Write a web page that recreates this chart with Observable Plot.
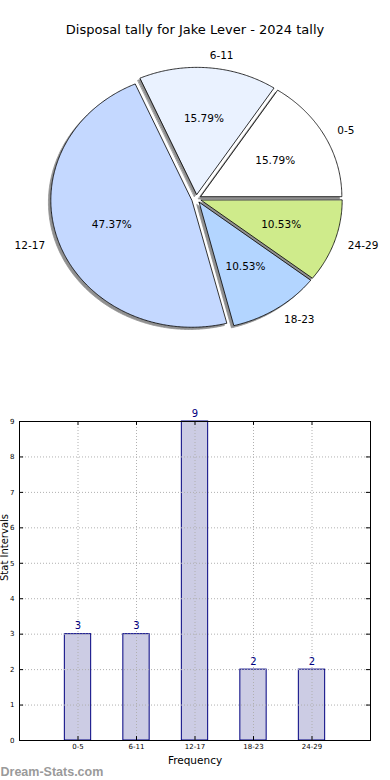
<!DOCTYPE html>
<html>
<head>
<meta charset="utf-8">
<script src="https://cdn.jsdelivr.net/npm/d3@7"></script>
<script src="https://cdn.jsdelivr.net/npm/@observablehq/plot@0.6"></script>
<style>
  html, body { margin: 0; padding: 0; background: #fff; }
  body { width: 390px; height: 780px; overflow: hidden; font-family: "DejaVu Sans", sans-serif; }
  #title { height: 45px; line-height: 60px; text-align: center; font-size: 13px; color: #000; }
  svg { display: block; }
</style>
</head>
<body>
<div id="title">Disposal tally for Jake Lever - 2024 tally</div>
<div id="pie"></div>
<div id="bar"></div>
<script>
// ---- data ----
const categories = ["0-5", "6-11", "12-17", "18-23", "24-29"];
const counts = [3, 3, 9, 2, 2];
const sliceColors = ["#ffffff", "#eaf2ff", "#c4d8ff", "#b3d5ff", "#cfeb8b"];
const yTickValues = [0, 1, 2, 3, 4, 5, 6, 7, 8, 9];

// ---- pie geometry (unit coordinates, matplotlib-style: start 0deg, counter-clockwise) ----
const total = d3.sum(counts);
const explode = 0.035;
let acc = 0;
const wedges = categories.map((c, i) => {
  const a0 = acc / total * 2 * Math.PI;
  acc += counts[i];
  const a1 = acc / total * 2 * Math.PI;
  const mid = (a0 + a1) / 2;
  const ox = explode * Math.cos(mid), oy = explode * Math.sin(mid);
  const pts = [{x: ox, y: oy}];
  const n = Math.max(8, Math.ceil((a1 - a0) / 0.01));
  for (let k = 0; k <= n; k++) {
    const t = a0 + (a1 - a0) * k / n;
    pts.push({x: ox + Math.cos(t), y: oy + Math.sin(t)});
  }
  return {
    label: c, color: sliceColors[i], pts, mid, ox, oy,
    pct: (counts[i] / total * 100).toFixed(2) + "%"
  };
});

const W = 390, pieH = 300, cx = 196, cy = 153.3, rx = 141, ry = 127;
const pieMarks = [];
// shadows
wedges.forEach(w => pieMarks.push(
  Plot.line(w.pts, {x: "x", y: "y", curve: "linear-closed", fill: "#909090", stroke: "#909090", strokeWidth: 0.8, dx: -2.4, dy: 2.2})
));
// wedges
wedges.forEach(w => pieMarks.push(
  Plot.line(w.pts, {x: "x", y: "y", curve: "linear-closed", fill: w.color, stroke: "#000", strokeWidth: 0.8})
));
const catLabels = wedges.map(w => ({x: w.ox + 1.1 * Math.cos(w.mid), y: w.oy + 1.1 * Math.sin(w.mid), t: w.label, anchor: Math.cos(w.mid) >= 0 ? "start" : "end"}));
const pctLabels = wedges.map(w => ({x: w.ox + 0.6 * Math.cos(w.mid), y: w.oy + 0.6 * Math.sin(w.mid), t: w.pct}));
pieMarks.push(Plot.text(catLabels.filter(d => d.anchor === "start"), {x: "x", y: "y", text: "t", textAnchor: "start", fontSize: 10.5, fill: "#000"}));
pieMarks.push(Plot.text(catLabels.filter(d => d.anchor === "end"), {x: "x", y: "y", text: "t", textAnchor: "end", fontSize: 10.5, fill: "#000"}));
pieMarks.push(Plot.text(pctLabels, {x: "x", y: "y", text: "t", fontSize: 10.5, fill: "#000"}));

const pie = Plot.plot({
  width: W, height: pieH,
  margin: 0,
  style: {fontFamily: "DejaVu Sans, sans-serif", background: "transparent", overflow: "visible"},
  x: {domain: [-cx / rx, (W - cx) / rx], range: [0, W], axis: null},
  y: {domain: [-(pieH - cy) / ry, cy / ry], range: [pieH, 0], axis: null},
  marks: pieMarks
});
document.getElementById("pie").appendChild(pie);

// ---- bar chart ----
const barData = categories.map((c, i) => ({i, c, v: counts[i]}));
const barW = 0.45;
const bar = Plot.plot({
  width: W, height: 435,
  marginTop: 76, marginBottom: 40, marginLeft: 19, marginRight: 20,
  style: {fontFamily: "DejaVu Sans, sans-serif", background: "transparent", overflow: "visible"},
  x: {domain: [-1, 5], axis: null},
  y: {domain: [0, 9], axis: null},
  marks: [
    Plot.rect(barData, {x1: d => d.i - barW / 2, x2: d => d.i + barW / 2, y1: 0, y2: "v", fill: "#ccccE4", stroke: "#000080", strokeWidth: 1}),
    Plot.gridX(barData.map(d => d.i), {stroke: "#b0b0b0", strokeOpacity: 1, strokeDasharray: "1,2"}),
    Plot.gridY(yTickValues, {stroke: "#b0b0b0", strokeOpacity: 1, strokeDasharray: "1,2"}),
    Plot.ruleY(yTickValues, {x1: -1, x2: -0.93, stroke: "#000"}),
    Plot.ruleY(yTickValues, {x1: 4.93, x2: 5, stroke: "#000"}),
    Plot.ruleX(barData.map(d => d.i), {y1: 0, y2: 0.11, stroke: "#000"}),
    Plot.ruleX(barData.map(d => d.i), {y1: 8.89, y2: 9, stroke: "#000"}),
    Plot.frame({stroke: "#000", strokeWidth: 1}),
    Plot.axisY(yTickValues, {tickSize: 0, tickPadding: 5, fontSize: 7, label: null, color: "#000"}),
    Plot.axisX(barData.map(d => d.i), {tickSize: 0, tickPadding: 4, fontSize: 7, label: null, tickFormat: i => categories[i]}),
    Plot.text(barData, {x: "i", y: "v", text: d => String(d.v), lineAnchor: "middle", dy: -8, fill: "#000080", fontSize: 10}),
    Plot.text(["Frequency"], {frameAnchor: "bottom", lineAnchor: "middle", dy: 20, fontSize: 10.5, fill: "#000"}),
    Plot.text(["Stat Intervals"], {frameAnchor: "left", rotate: -90, dx: -15, fontSize: 10, fill: "#000"}),
    Plot.text(["Dream-Stats.com"], {frameAnchor: "bottom-left", lineAnchor: "middle", textAnchor: "start", dx: -19, dy: 31, fontSize: 12.5, fontWeight: "bold", fontFamily: "Liberation Sans, Arial, sans-serif", fill: "#9a9a9a"})
  ]
});
document.getElementById("bar").appendChild(bar);
</script>
</body>
</html>
